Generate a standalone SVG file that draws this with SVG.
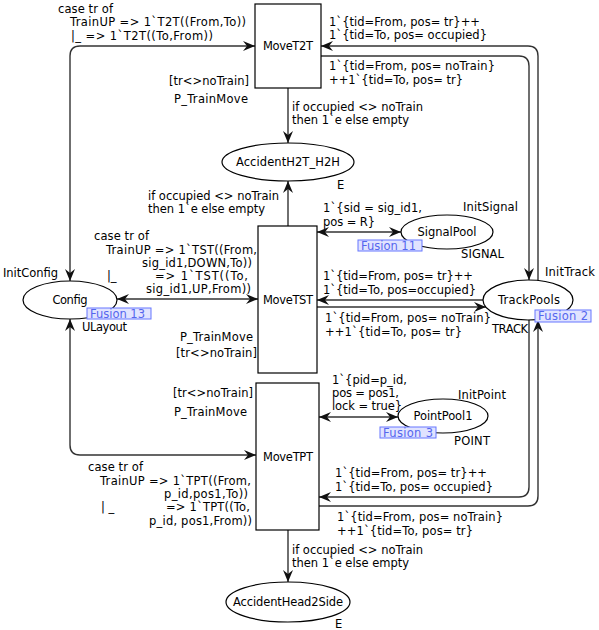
<svg xmlns="http://www.w3.org/2000/svg" width="599" height="630" viewBox="0 0 599 630">
<style>
text{font-family:"DejaVu Sans","Liberation Sans",sans-serif;font-size:11.5px;fill:#000}
.c{text-anchor:middle}
.node{fill:#fff;stroke:#000;stroke-width:1.2}
.arc{fill:none;stroke:#333;stroke-width:1.4}
.fb{fill:#e0e3ff;stroke:#6677ff;stroke-width:1}
.ft{fill:#5566ee}
</style>
<defs>
<marker id="ah" viewBox="0 0 12 10" refX="12" refY="5" markerWidth="12" markerHeight="10" markerUnits="userSpaceOnUse" orient="auto-start-reverse">
<path d="M0,0 L12,5 L0,10 L4,5 Z" fill="#111"/>
</marker>
</defs>
<rect width="599" height="630" fill="#fff"/>
<g id="connectors">
<path class="arc" d="M70,281 L70,56 Q70,46 80,46 L255,46" marker-start="url(#ah)" marker-end="url(#ah)"/>
<path class="arc" d="M117,299 L258,299" marker-start="url(#ah)" marker-end="url(#ah)"/>
<path class="arc" d="M70,319 L70,445 Q70,455 80,455 L256,455" marker-start="url(#ah)" marker-end="url(#ah)"/>
<path class="arc" d="M288,88 L288,143" marker-end="url(#ah)"/>
<path class="arc" d="M288,226 L288,181" marker-end="url(#ah)"/>
<path class="arc" d="M317,232 L401,232" marker-start="url(#ah)" marker-end="url(#ah)"/>
<path class="arc" d="M483,300 L317,300" marker-end="url(#ah)"/>
<path class="arc" d="M317,307 L486,307" marker-end="url(#ah)"/>
<path class="arc" d="M538,281 L538,56 Q538,46 528,46 L321,46" marker-end="url(#ah)"/>
<path class="arc" d="M321,56 L519,56 Q529,56 529,66 L529,280" marker-end="url(#ah)"/>
<path class="arc" d="M529,320 L529,487 Q529,497 519,497 L319,497" marker-end="url(#ah)"/>
<path class="arc" d="M319,506 L528,506 Q538,506 538,496 L538,320" marker-end="url(#ah)"/>
<path class="arc" d="M319,417 L398,417" marker-start="url(#ah)" marker-end="url(#ah)"/>
<path class="arc" d="M288,530 L288,582" marker-end="url(#ah)"/>
</g>
<g id="arc-labels">
<text x="58" y="12.5" textLength="55">case tr of</text>
<text x="70" y="26" textLength="176">TrainUP =&gt; 1`T2T((From,To))</text>
<text x="71" y="39.5" textLength="142">|_ =&gt; 1`T2T((To,From))</text>
<text x="329" y="26" textLength="151">1`{tid=From, pos= tr}++</text>
<text x="329" y="39" textLength="158">1`{tid=To, pos= occupied}</text>
<text x="329" y="70" textLength="166">1`{tid=From, pos= noTrain}</text>
<text x="329" y="84" textLength="134">++1`{tid=To, pos= tr}</text>
<text x="292" y="111" textLength="131">if occupied &lt;&gt; noTrain</text>
<text x="292" y="124" textLength="117">then 1`e else empty</text>
<text x="148" y="200" textLength="131">if occupied &lt;&gt; noTrain</text>
<text x="148" y="213" textLength="117">then 1`e else empty</text>
<text x="94" y="240" textLength="55">case tr of</text>
<text x="106" y="254" textLength="151">TrainUP =&gt; 1`TST((From,</text>
<text x="142" y="267" textLength="110">sig_id1,DOWN,To))</text>
<text x="107" y="280">|_</text>
<text x="155" y="280" textLength="93">=&gt; 1`TST((To,</text>
<text x="146" y="293" textLength="105">sig_id1,UP,From))</text>
<text x="323" y="212" textLength="99">1`{sid = sig_id1,</text>
<text x="323" y="226" textLength="52">pos = R}</text>
<text x="323" y="280" textLength="150">1`{tid=From, pos= tr}++</text>
<text x="323" y="293.5" textLength="153">1`{tid=To, pos=occupied}</text>
<text x="325" y="322" textLength="166">1`{tid=From, pos= noTrain}</text>
<text x="325" y="336" textLength="137">++1`{tid=To, pos= tr}</text>
<text x="332" y="384" textLength="75">1`{pid=p_id,</text>
<text x="332" y="397" textLength="67">pos = pos1,</text>
<text x="332" y="410" textLength="70">lock = true}</text>
<text x="88" y="471" textLength="55">case tr of</text>
<text x="100" y="485" textLength="151">TrainUP =&gt; 1`TPT((From,</text>
<text x="164" y="498" textLength="84">p_id,pos1,To))</text>
<text x="101" y="511">| _</text>
<text x="166" y="511" textLength="84">=&gt; 1`TPT((To,</text>
<text x="149" y="525" textLength="103">p_id, pos1,From))</text>
<text x="335" y="477" textLength="152">1`{tid=From, pos= tr}++</text>
<text x="335" y="491" textLength="158">1`{tid=To, pos= occupied}</text>
<text x="337" y="521" textLength="166">1`{tid=From, pos= noTrain}</text>
<text x="337" y="535" textLength="136">++1`{tid=To, pos= tr}</text>
<text x="292" y="554" textLength="131">if occupied &lt;&gt; noTrain</text>
<text x="292" y="567" textLength="117">then 1`e else empty</text>
</g>
<g id="MoveT2T">
<rect class="node" x="255" y="4" width="66" height="84"/>
<text class="c" x="288" y="50" textLength="50">MoveT2T</text>
<text x="169" y="85" textLength="80">[tr&lt;&gt;noTrain]</text>
<text x="174" y="103" textLength="74">P_TrainMove</text>
</g>
<g id="MoveTST">
<rect class="node" x="258" y="226" width="59" height="147"/>
<text class="c" x="288" y="304" textLength="50">MoveTST</text>
<text x="180" y="341" textLength="73">P_TrainMove</text>
<text x="176" y="357" textLength="81">[tr&lt;&gt;noTrain]</text>
</g>
<g id="MoveTPT">
<rect class="node" x="256" y="383" width="63" height="147"/>
<text class="c" x="288" y="461" textLength="50">MoveTPT</text>
<text x="173" y="397" textLength="80">[tr&lt;&gt;noTrain]</text>
<text x="174" y="416" textLength="73">P_TrainMove</text>
</g>
<g id="AccidentH2T_H2H">
<ellipse class="node" cx="288" cy="162" rx="66" ry="19"/>
<text class="c" x="288" y="166" textLength="104">AccidentH2T_H2H</text>
<text x="337" y="189">E</text>
</g>
<g id="Config">
<ellipse class="node" cx="70" cy="300" rx="47" ry="19"/>
<text class="c" x="70" y="304" textLength="35">Config</text>
<text x="3" y="277" textLength="55">InitConfig</text>
<rect class="fb" x="87" y="308" width="64" height="11"/>
<text class="ft" x="90" y="317.5" textLength="55">Fusion 13</text>
<text x="82" y="331" textLength="45">ULayout</text>
</g>
<g id="SignalPool">
<ellipse class="node" cx="447" cy="232" rx="46" ry="17"/>
<text class="c" x="447" y="236" textLength="59">SignalPool</text>
<text x="463" y="211" textLength="55">InitSignal</text>
<rect class="fb" x="358" y="240" width="64" height="11"/>
<text class="ft" x="361" y="249.5" textLength="55">Fusion 11</text>
<text x="461" y="258" textLength="43">SIGNAL</text>
</g>
<g id="TrackPools">
<ellipse class="node" cx="528" cy="300" rx="45" ry="20"/>
<text class="c" x="529" y="304" textLength="62">TrackPools</text>
<text x="545" y="276" textLength="50">InitTrack</text>
<rect class="fb" x="535" y="310" width="56" height="12"/>
<text class="ft" x="538" y="320" textLength="50">Fusion 2</text>
<text x="492" y="333" textLength="36">TRACK</text>
</g>
<g id="PointPool1">
<ellipse class="node" cx="443" cy="416" rx="45" ry="17"/>
<text class="c" x="443" y="420" textLength="59">PointPool1</text>
<text x="458" y="399" textLength="48">InitPoint</text>
<rect class="fb" x="380" y="427" width="56" height="11"/>
<text class="ft" x="383" y="436.5" textLength="50">Fusion 3</text>
<text x="454" y="445" textLength="36">POINT</text>
</g>
<g id="AccidentHead2Side">
<ellipse class="node" cx="288" cy="602" rx="62" ry="20"/>
<text class="c" x="288" y="606" textLength="110">AccidentHead2Side</text>
<text x="335" y="628">E</text>
</g>
</svg>
